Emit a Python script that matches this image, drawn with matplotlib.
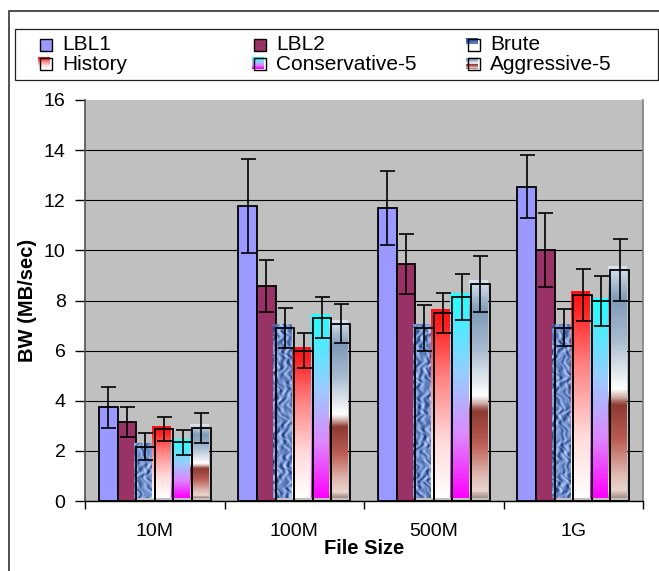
import numpy as np
import matplotlib
matplotlib.use('Agg')
import matplotlib.pyplot as plt
from matplotlib.patches import Rectangle
from matplotlib.colors import LinearSegmentedColormap

plt.rcParams['font.family'] = ['Liberation Sans', 'DejaVu Sans']

# ---------------- data ----------------
categories = ['10M', '100M', '500M', '1G']
series = ['LBL1', 'LBL2', 'Brute', 'History', 'Conservative-5', 'Aggressive-5']
lbl1 = [3.74, 11.77, 11.68, 12.54]
lbl1_err = [0.81, 1.88, 1.47, 1.25]
lbl2 = [3.17, 8.59, 9.46, 10.02]
lbl2_err = [0.60, 1.03, 1.20, 1.47]
brute = [2.17, 6.92, 6.92, 6.92]
brute_err = [0.55, 0.80, 0.92, 0.75]
history = [2.86, 6.00, 7.51, 8.22]
history_err = [0.48, 0.69, 0.79, 1.04]
conservative = [2.34, 7.32, 8.15, 7.98]
conservative_err = [0.51, 0.80, 0.92, 0.99]
aggressive = [2.93, 7.08, 8.67, 9.22]
aggressive_err = [0.60, 0.79, 1.11, 1.23]
y_ticks = [0, 2, 4, 6, 8, 10, 12, 14, 16]

values = [lbl1, lbl2, brute, history, conservative, aggressive]
errors = [lbl1_err, lbl2_err, brute_err, history_err, conservative_err, aggressive_err]

# ---------------- styles ----------------
W, H = 659, 571
solid = {0: '#9999FF', 1: '#993366'}
grad_stops = {
    3: [(0.0, '#FF1010'), (0.08, '#FF2020'), (0.35, '#FF8080'), (0.7, '#FFDADA'), (1.0, '#FFFFFF')],
    4: [(0.0, '#20FFFF'), (0.4, '#99CCFF'), (0.7, '#DD88FF'), (1.0, '#FF00FF')],
    5: [(0.0, '#D8E4EE'), (0.14, '#7F9AB8'), (0.32, '#A8BCD0'), (0.5, '#F4F6F8'),
        (0.53, '#FFFFFF'), (0.56, '#D8BCB6'), (0.6, '#8B3A32'), (0.75, '#BC5C54'),
        (0.9, '#E0B8B0'), (0.97, '#EAD6CE'), (1.0, '#A89088')],
}
texture_cmap = LinearSegmentedColormap.from_list(
    'tex', ['#1E3470', '#3A5A9C', '#6F8FCC', '#9AB6E8', '#C4D8F6'])


def gradient_colors(stops, n):
    cm = LinearSegmentedColormap.from_list('g', stops)
    return cm(np.linspace(0, 1, n))[:, :3]


def texture(rows, cols, ph):
    yy, xx = np.mgrid[0:rows, 0:cols].astype(float)
    u = xx + 2.5 * np.sin(0.23 * yy + ph) + 1.2 * np.sin(0.61 * yy + 2 * ph)
    t = yy + 2.0 * np.sin(0.37 * xx + ph) + 1.5 * np.cos(0.19 * yy)
    v = (np.sin(0.83 * u) * np.cos(0.47 * t)
         + 0.6 * np.sin(0.29 * t + 0.7 * u + ph)
         + 0.4 * np.cos(1.31 * u - 0.53 * t))
    v = (v - v.min()) / (v.max() - v.min())
    return texture_cmap(v)[:, :, :3]


fig = plt.figure(figsize=(W / 100, H / 100), dpi=100)
ax = fig.add_axes([85 / W, 1 - 501 / H, 558 / W, 401 / H])
ax.set_facecolor('#C0C0C0')

x = np.arange(len(categories))
n = len(series)
w = 0.8 / n
dx, dy = -0.0165, 0.108
px_per_unit = 401 / 16

for j in range(n):
    pos = x + (j - (n - 1) / 2) * w
    if j in solid:
        ax.bar(pos, values[j], w, color=solid[j], edgecolor='black',
               linewidth=1.3, zorder=3)
    else:
        bars = ax.bar(pos, values[j], w, facecolor='none', edgecolor='black',
                      linewidth=1.3, zorder=4)
        for k, b in enumerate(bars):
            x0, bw, bh = b.get_x(), b.get_width(), b.get_height()
            rows = max(int(bh * px_per_unit), 2)
            if j == 2:
                img = texture(rows, 19, 1.7 * k)
            else:
                img = gradient_colors(grad_stops[j], rows)[:, None, :]
            ax.imshow(img, extent=[x0 + dx, x0 + bw + dx, dy, bh + dy],
                      aspect='auto', interpolation='bilinear', zorder=3)
    ax.errorbar(pos, values[j], yerr=errors[j], fmt='none', ecolor='black',
                elinewidth=1.2, capsize=5.4, capthick=1.2, zorder=5)

ax.set_xlim(-0.5, len(categories) - 0.5)
ax.set_ylim(0, 16)
ax.set_yticks(y_ticks)
ax.set_yticklabels([str(t) for t in y_ticks], fontsize=14)
ax.yaxis.grid(True, color='black', linewidth=0.8)
ax.set_axisbelow(True)
ax.yaxis.get_gridlines()[-1].set_visible(False)

ax.set_xticks(np.arange(len(categories) + 1) - 0.5)
ax.set_xticklabels([])
ax.set_xticks(x, minor=True)
ax.set_xticklabels(categories, minor=True, fontsize=14)
ax.tick_params(axis='x', which='major', length=5.5, width=1, direction='out')
ax.tick_params(axis='x', which='minor', length=0, pad=16)
ax.tick_params(axis='y', length=7, width=1, direction='out', pad=7)

ax.spines['top'].set_visible(False)
ax.spines['left'].set_color('#505050')
ax.spines['left'].set_linewidth(1.2)
ax.spines['right'].set_color('#808080')
ax.spines['right'].set_linewidth(1.2)
ax.spines['bottom'].set_color('black')
ax.spines['bottom'].set_linewidth(1.0)

ax.set_xlabel('File Size', fontsize=14.5, fontweight='bold')
ax.xaxis.label.set_va('center')
ax.xaxis.set_label_coords(0.5, (501 - 549) / 401)
ax.set_ylabel('BW (MB/sec)', fontsize=14.5, fontweight='bold')
ax.yaxis.label.set_va('center')
ax.yaxis.set_label_coords((27.5 - 85) / 558, 0.5)


# ---------------- frame & legend ----------------
def fx(p):
    return p / W


def fy(p):
    return 1 - p / H


fig.add_artist(Rectangle((fx(9), -0.05), 1.2, fy(11) + 0.05, transform=fig.transFigure,
                         fill=False, edgecolor='#333333', linewidth=1.2, clip_on=False))
fig.add_artist(Rectangle((fx(15), fy(80)), 643 / W, 51 / H, transform=fig.transFigure,
                         fill=False, edgecolor='#222222', linewidth=0.9))

col_x = [40, 254, 468]
row_top = [39, 58]
row_base = [49.5, 69.5]
ms = 12
for j, name in enumerate(series):
    c, r = j % 3, j // 3
    mx, my = col_x[c], row_top[r]
    if j in solid:
        fig.add_artist(Rectangle((fx(mx), fy(my + ms)), ms / W, ms / H,
                                 transform=fig.transFigure, facecolor=solid[j],
                                 edgecolor='black', linewidth=1.0))
    else:
        fig.add_artist(Rectangle((fx(mx), fy(my + ms)), ms / W, ms / H,
                                 transform=fig.transFigure, facecolor='white',
                                 edgecolor='none'))
        if j == 2:
            cols = texture_cmap(np.linspace(0.2, 0.7, ms))[:, :3]
            nb = 6
        else:
            cols = gradient_colors(grad_stops[j], ms)
            nb = ms
        ox, oy = mx - 2, my - 1.5
        for b in range(nb):
            fig.add_artist(Rectangle((fx(ox), fy(oy + b + 1)), ms / W, 1 / H,
                                     transform=fig.transFigure, facecolor=cols[b],
                                     edgecolor='none'))
        fig.add_artist(Rectangle((fx(mx), fy(my + ms)), ms / W, ms / H,
                                 transform=fig.transFigure, fill=False,
                                 edgecolor='black', linewidth=1.0))
    fig.text(fx(mx + 22), fy(row_base[r]), name, fontsize=15, ha='left',
             va='baseline')

fig.savefig('out.png', dpi=100)
